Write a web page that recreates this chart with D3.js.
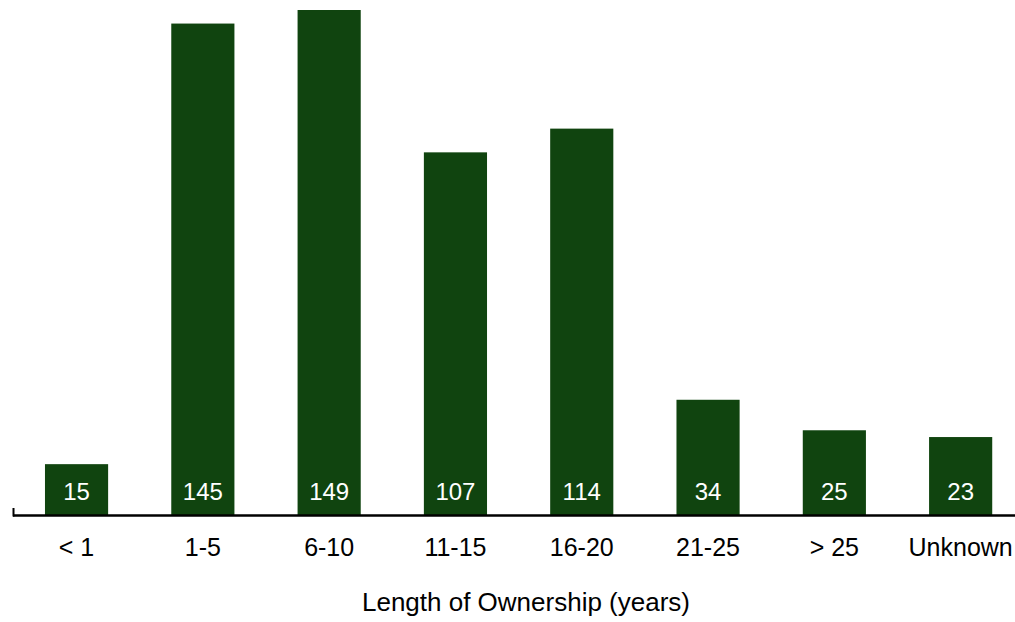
<!DOCTYPE html>
<html><head><meta charset="utf-8">
<script src="https://cdn.jsdelivr.net/npm/d3@7"></script>
<style>body{margin:0;background:#fff}svg{display:block}</style>
</head><body>
<script>
const categories = ["< 1","1-5","6-10","11-15","16-20","21-25","> 25","Unknown"];
const values = [15,145,149,107,114,34,25,23];
const axisTitle = "Length of Ownership (years)";

const W = 1015, H = 622;
const svg = d3.select("body").append("svg").attr("width", W).attr("height", H);
const font = "'Liberation Sans', Arial, sans-serif";

const x = d3.scaleBand().domain(categories).range([13.4, 1023.8]).paddingInner(0.5).paddingOuter(0.25);
const y = d3.scaleLinear().domain([0, 149]).range([515, 10]);

svg.selectAll("rect.bar").data(values).join("rect")
  .attr("class","bar")
  .attr("x", (d,i) => x(categories[i]))
  .attr("width", x.bandwidth())
  .attr("y", d => y(d))
  .attr("height", d => y(0) - y(d))
  .attr("fill", "#10440f");

svg.selectAll("text.val").data(values).join("text")
  .attr("class","val")
  .attr("x", (d,i) => x(categories[i]) + x.bandwidth()/2)
  .attr("y", 499.5)
  .attr("text-anchor","middle")
  .attr("fill","#fff")
  .style("font-family", font).style("font-size","24px")
  .text(d => d);

// axis
svg.append("line").attr("x1", 13).attr("x2", W).attr("y1", 515.5).attr("y2", 515.5)
  .attr("stroke","#000").attr("stroke-width", 2.5);
svg.append("line").attr("x1", 13.5).attr("x2", 13.5).attr("y1", 508).attr("y2", 516.5)
  .attr("stroke","#000").attr("stroke-width", 2);

svg.selectAll("text.cat").data(categories).join("text")
  .attr("class","cat")
  .attr("x", d => x(d) + x.bandwidth()/2)
  .attr("y", 556)
  .attr("text-anchor","middle")
  .attr("fill","#000")
  .style("font-family", font).style("font-size","25px")
  .text(d => d);

svg.append("text")
  .attr("x", 526).attr("y", 610.5)
  .attr("text-anchor","middle")
  .style("font-family", font).style("font-size","26px")
  .text(axisTitle);
</script>
</body></html>
